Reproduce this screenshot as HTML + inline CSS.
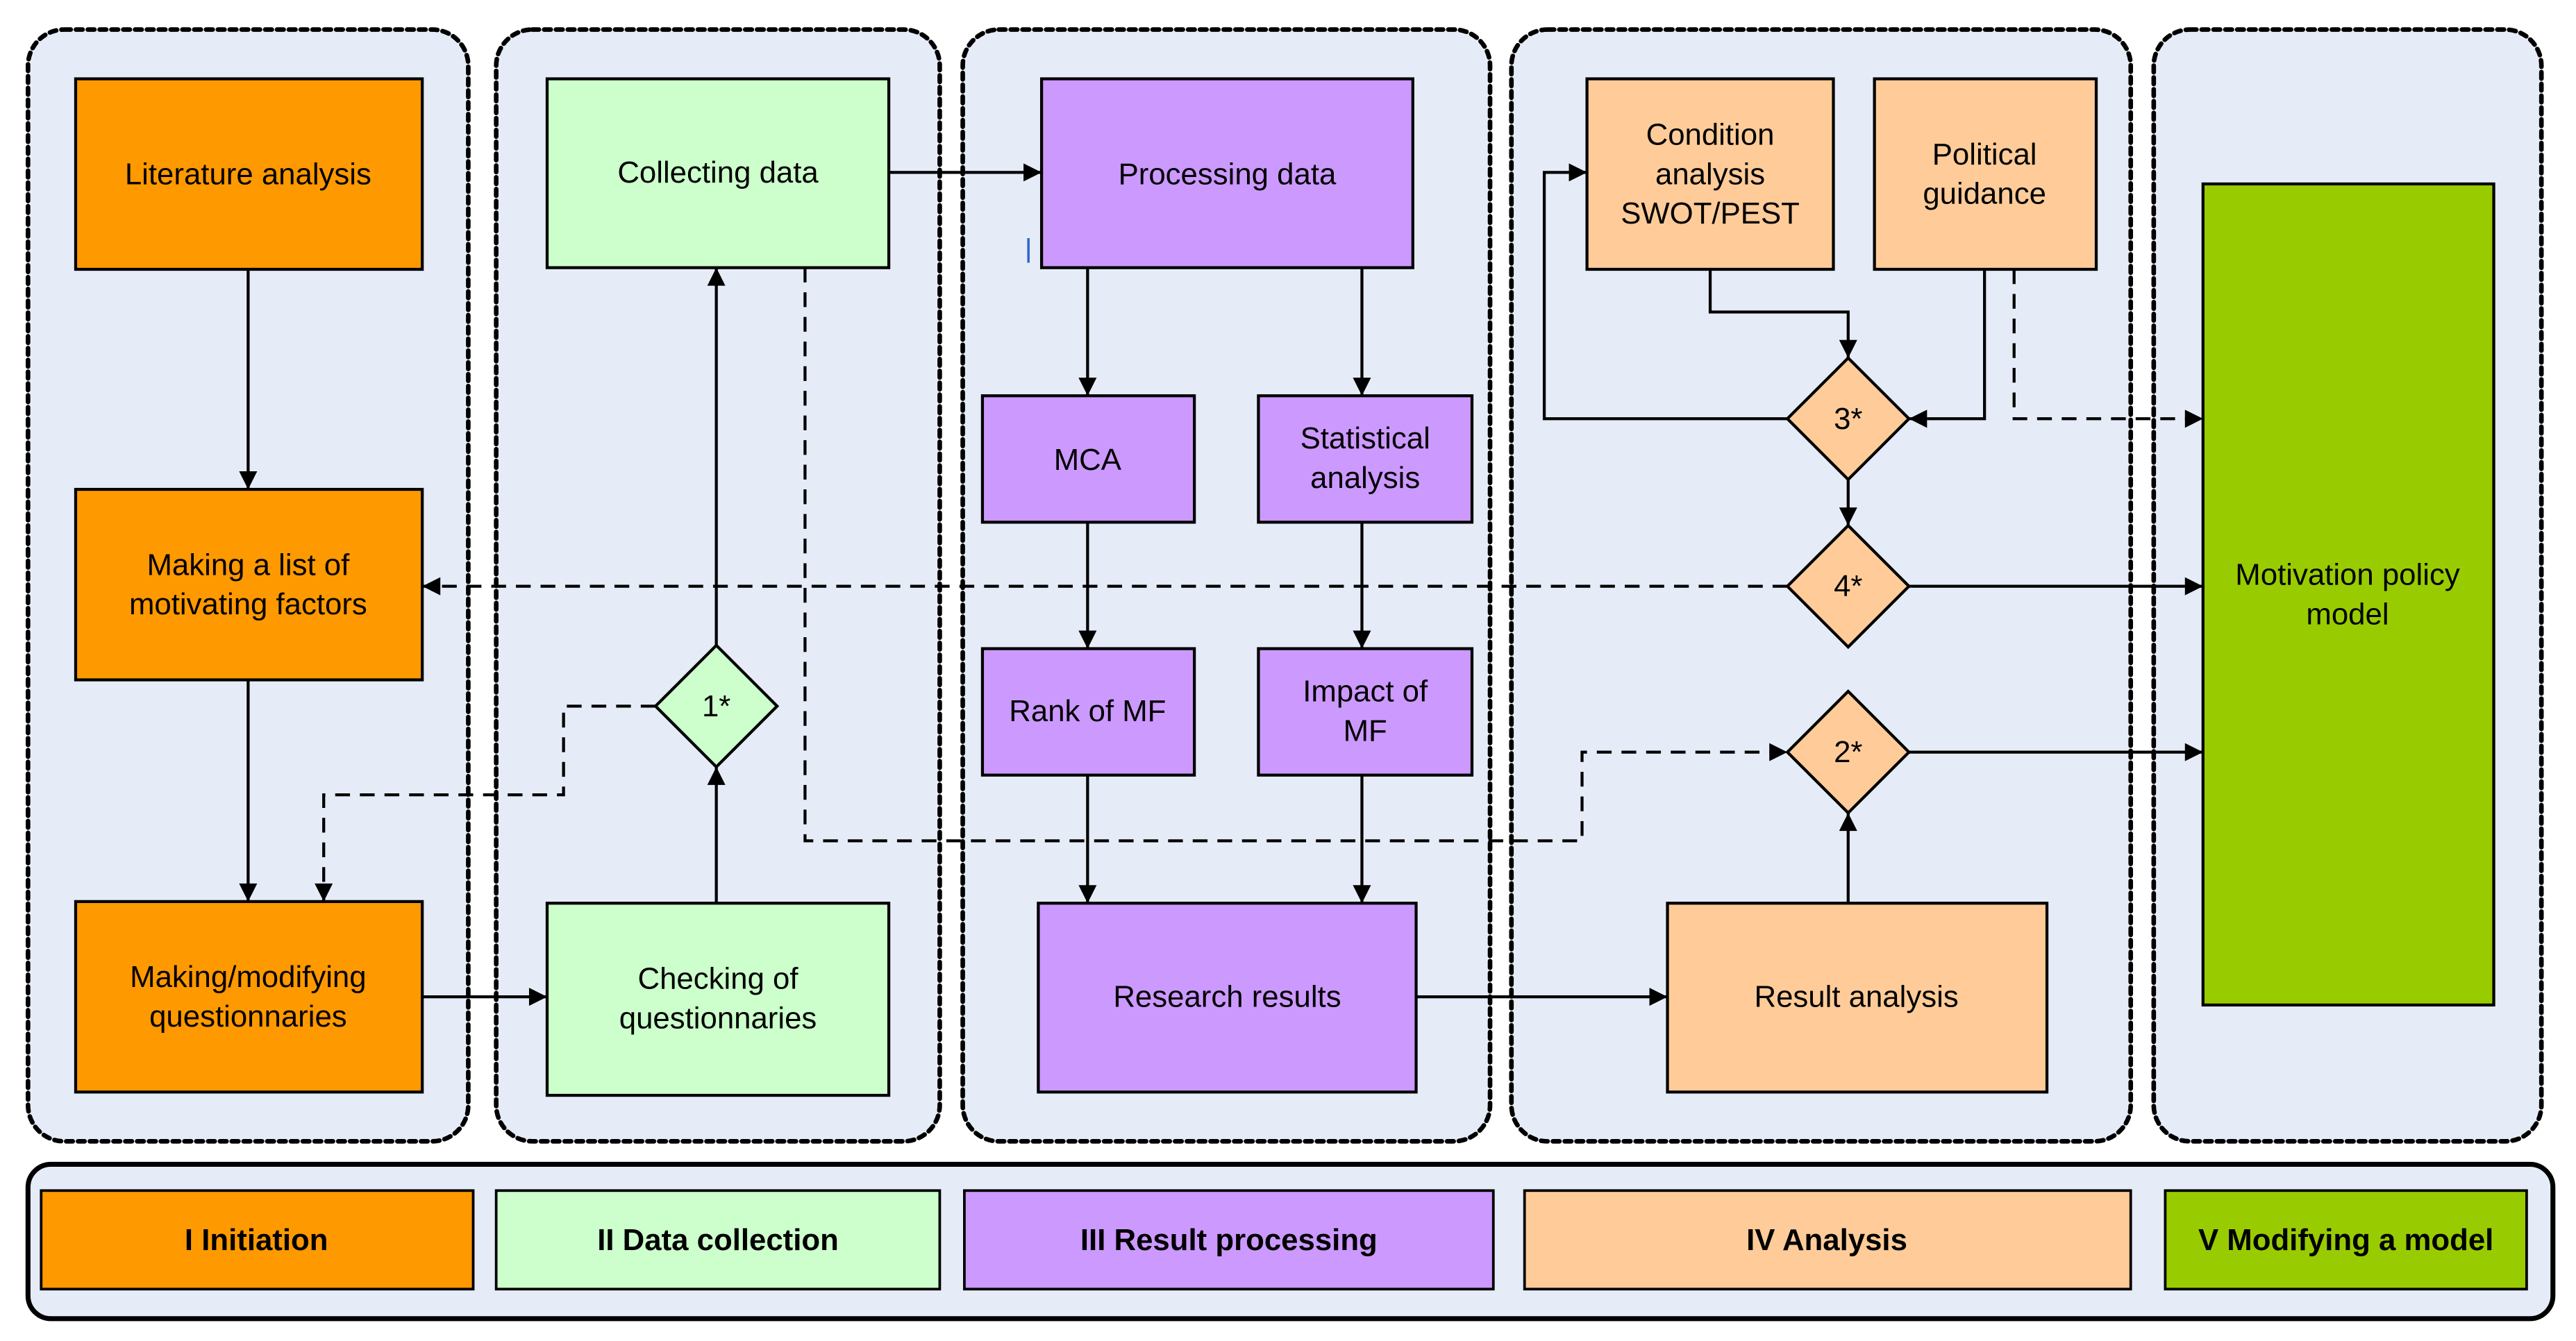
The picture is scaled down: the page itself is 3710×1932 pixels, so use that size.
<!DOCTYPE html>
<html><head><meta charset="utf-8"><style>
html,body{margin:0;padding:0;background:#fff}
svg{display:block}
text{font-family:"Liberation Sans",Arial,sans-serif;font-size:18.5px;fill:#000;text-anchor:middle;dominant-baseline:central}
.b{font-weight:bold}
</style></head><body>
<svg width="3710" height="1932" viewBox="0 0 1568 816.6" xmlns="http://www.w3.org/2000/svg">
<defs>
<marker id="a" viewBox="0 0 10 10" refX="10" refY="5" markerWidth="13" markerHeight="11" markerUnits="userSpaceOnUse" orient="auto"><path d="M0,0 L10,5 L0,10 z" fill="#000"/></marker>
</defs>
<rect width="1568" height="817" fill="#fff"/>
<g fill="#E6ECF7" stroke="#000" stroke-width="2.8" stroke-dasharray="4 3.2" stroke-linecap="round">
<rect x="17" y="18" width="268" height="677" rx="22"/>
<rect x="302" y="18" width="270" height="677" rx="22"/>
<rect x="586" y="18" width="321" height="677" rx="22"/>
<rect x="920" y="18" width="377" height="677" rx="22"/>
<rect x="1311" y="18" width="236" height="677" rx="22"/>
</g>
<rect x="17" y="709" width="1537" height="94" rx="14" fill="#E6ECF7" stroke="#000" stroke-width="3"/>
<g stroke="#000" stroke-width="1.6">
<rect x="25" y="725" width="263" height="60" fill="#FF9900"/>
<rect x="302" y="725" width="270" height="60" fill="#CCFFCC"/>
<rect x="587" y="725" width="322" height="60" fill="#CC99FF"/>
<rect x="928" y="725" width="369" height="60" fill="#FFCC99"/>
<rect x="1318" y="725" width="220" height="60" fill="#99CC00"/>
</g>
<text class="b" x="156" y="755">I Initiation</text>
<text class="b" x="437" y="755">II Data collection</text>
<text class="b" x="748" y="755">III Result processing</text>
<text class="b" x="1112" y="755">IV Analysis</text>
<text class="b" x="1428" y="755">V Modifying a model</text>

<g stroke="#000" stroke-width="1.8">
<rect x="46" y="48" width="211" height="116" fill="#FF9900"/>
<rect x="46" y="298" width="211" height="116" fill="#FF9900"/>
<rect x="46" y="549" width="211" height="116" fill="#FF9900"/>
<rect x="333" y="48" width="208" height="115" fill="#CCFFCC"/>
<rect x="333" y="550" width="208" height="117" fill="#CCFFCC"/>
<rect x="634" y="48" width="226" height="115" fill="#CC99FF"/>
<rect x="598" y="241" width="129" height="77" fill="#CC99FF"/>
<rect x="766" y="241" width="130" height="77" fill="#CC99FF"/>
<rect x="598" y="395" width="129" height="77" fill="#CC99FF"/>
<rect x="766" y="395" width="130" height="77" fill="#CC99FF"/>
<rect x="632" y="550" width="230" height="115" fill="#CC99FF"/>
<rect x="966" y="48" width="150" height="116" fill="#FFCC99"/>
<rect x="1141" y="48" width="135" height="116" fill="#FFCC99"/>
<rect x="1015" y="550" width="231" height="115" fill="#FFCC99"/>
<rect x="1341" y="112" width="177" height="500" fill="#99CC00"/>
<path d="M436,393 L473,430 L436,467 L399,430 z" fill="#CCFFCC"/>
<path d="M1125,218 L1162,255 L1125,292 L1088,255 z" fill="#FFCC99"/>
<path d="M1125,320 L1162,357 L1125,394 L1088,357 z" fill="#FFCC99"/>
<path d="M1125,421 L1162,458 L1125,495 L1088,458 z" fill="#FFCC99"/>
</g>
<line x1="626" y1="145" x2="626" y2="160" stroke="#36c" stroke-width="1.5"/>

<g fill="none" stroke="#000" stroke-width="1.8" marker-end="url(#a)">
<path d="M151,164 V298"/>
<path d="M151,414 V549"/>
<path d="M257,607 H333"/>
<path d="M436,550 V467"/>
<path d="M436,393 V163"/>
<path d="M541,105 H634"/>
<path d="M662,163 V241"/>
<path d="M829,163 V241"/>
<path d="M662,318 V395"/>
<path d="M829,318 V395"/>
<path d="M662,472 V550"/>
<path d="M829,472 V550"/>
<path d="M862,607 H1015"/>
<path d="M1125,550 V495"/>
<path d="M1162,458 H1341"/>
<path d="M1162,357 H1341"/>
<path d="M1125,292 V320"/>
<path d="M1088,255 H940 V105 H966"/>
<path d="M1041,164 V190 H1125 V218"/>
<path d="M1208,164 V255 H1162"/>
</g>
<g fill="none" stroke="#000" stroke-width="1.8" stroke-dasharray="9 6" marker-end="url(#a)">
<path d="M399,430 H343 V484 H197 V549"/>
<path d="M490,163 V512 H963 V458 H1088"/>
<path d="M1088,357 H257"/>
<path d="M1226,164 V255 H1341"/>
</g>

<text x="151" y="106">Literature analysis</text>
<text x="151" y="344">Making a list of</text>
<text x="151" y="368">motivating factors</text>
<text x="151" y="595">Making/modifying</text>
<text x="151" y="619">questionnaries</text>
<text x="437" y="105">Collecting data</text>
<text x="437" y="596">Checking of</text>
<text x="437" y="620">questionnaries</text>
<text x="747" y="106">Processing data</text>
<text x="662" y="280">MCA</text>
<text x="831" y="267">Statistical</text>
<text x="831" y="291">analysis</text>
<text x="662" y="433">Rank of MF</text>
<text x="831" y="421">Impact of</text>
<text x="831" y="445">MF</text>
<text x="747" y="607">Research results</text>
<text x="1041" y="82">Condition</text>
<text x="1041" y="106">analysis</text>
<text x="1041" y="130">SWOT/PEST</text>
<text x="1208" y="94">Political</text>
<text x="1208" y="118">guidance</text>
<text x="1130" y="607">Result analysis</text>
<text x="1429" y="350">Motivation policy</text>
<text x="1429" y="374">model</text>
<text x="436" y="430">1*</text>
<text x="1125" y="255">3*</text>
<text x="1125" y="357">4*</text>
<text x="1125" y="458">2*</text>
</svg>
</body></html>
